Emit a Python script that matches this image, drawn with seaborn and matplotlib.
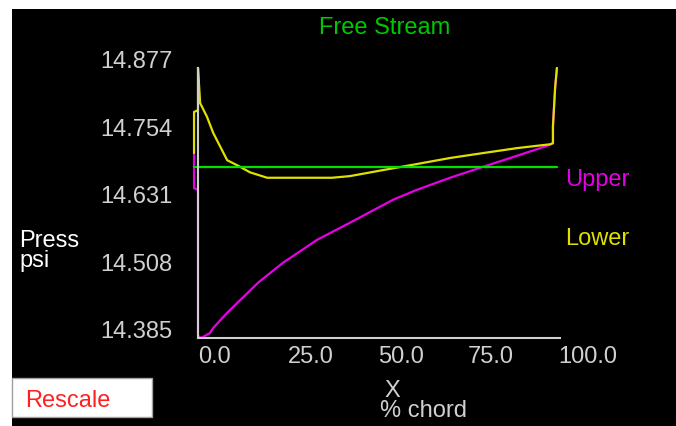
import matplotlib
matplotlib.use("Agg")
import matplotlib.pyplot as plt
from matplotlib.patches import Rectangle
import seaborn as sns

# % chord and pressure (psi) along the upper and lower surface
upper_x = [-1.1, -1.1, 0.0, 0.0, 0.8, 1.4, 3.3, 4.2, 8.1, 11.7, 16.9, 23.6,
           33.1, 42.2, 54.2, 60.8, 70.0, 79.2, 88.6, 97.8, 98.6, 98.6, 99.2,
           99.7]
upper_p = [14.722, 14.658, 14.655, 14.389, 14.385, 14.387, 14.394, 14.403,
           14.431, 14.454, 14.487, 14.522, 14.564, 14.595, 14.637, 14.655,
           14.677, 14.697, 14.717, 14.737, 14.740, 14.771, 14.841, 14.877]
lower_x = [-1.1, -1.1, 0.0, 0.0, 0.6, 2.5, 4.2, 8.1, 11.7, 14.4, 19.2, 37.2,
           42.2, 51.4, 60.8, 70.0, 79.2, 88.6, 97.8, 98.6, 98.6, 99.2, 99.7]
lower_p = [14.722, 14.797, 14.800, 14.877, 14.813, 14.788, 14.759, 14.709,
           14.697, 14.687, 14.677, 14.677, 14.680, 14.691, 14.702, 14.713,
           14.722, 14.731, 14.738, 14.740, 14.771, 14.841, 14.877]
free_x = [-1.1, 99.7]
free_p = [14.696, 14.696]

xticks = [0.0, 25.0, 50.0, 75.0, 100.0]
xtick_labels = ["0.0", "25.0", "50.0", "75.0", "100.0"]
yticks = [14.385, 14.508, 14.631, 14.754, 14.877]
ytick_labels = ["14.385", "14.508", "14.631", "14.754", "14.877"]

W, H = 676, 426
sns.set_style("dark", {"axes.facecolor": "none", "figure.facecolor": "white"})
plt.rcParams["font.family"] = ["Liberation Sans", "DejaVu Sans"]
FS = 17

YEL = "#e0e000"
MAG = "#e600e6"
GRN = "#00e000"
AXC = "#d0d0d0"

fig = plt.figure(figsize=(W / 100, H / 100), dpi=100, facecolor="white")
fig.patches.append(Rectangle((12 / W, 0), 1 - 12 / W, (H - 9) / H,
                             transform=fig.transFigure, facecolor="black",
                             edgecolor="none", zorder=-10))
fig.patches.append(Rectangle((12 / W, (H - 417) / H), 140 / W, 39 / H,
                             transform=fig.transFigure, facecolor="white",
                             edgecolor="#a0a0a0", linewidth=1, zorder=-5))


def px(x, y):
    return x / W, 1 - y / H


ax = fig.add_axes([198 / W, (H - 338) / H, 360 / W, 270 / H])
ax.set_facecolor("none")

sns.lineplot(x=upper_x, y=upper_p, sort=False, estimator=None, color=MAG,
             linewidth=1.6, ax=ax, clip_on=False)
sns.lineplot(x=lower_x, y=lower_p, sort=False, estimator=None, color=YEL,
             linewidth=1.6, ax=ax, clip_on=False)
sns.lineplot(x=free_x, y=free_p, sort=False, estimator=None, color=GRN,
             linewidth=1.6, ax=ax, clip_on=False)

ax.set_xlim(0, 100)
ax.set_ylim(14.385, 14.877)
ax.grid(False)
for s in ["top", "right"]:
    ax.spines[s].set_visible(False)
for s in ["left", "bottom"]:
    ax.spines[s].set_visible(True)
    ax.spines[s].set_color(AXC)
    ax.spines[s].set_linewidth(1.5)
ax.spines["bottom"].set_bounds(0, 100.5)

ax.set_xticks(xticks, xtick_labels)
ax.set_yticks(yticks, ytick_labels)
ax.tick_params(axis="both", length=0, colors=AXC, labelsize=FS)
ax.tick_params(axis="x", pad=5.5)
ax.tick_params(axis="y", pad=18.5)
for lbl in ax.get_xticklabels():
    lbl.set_horizontalalignment("left")
for lbl in ax.get_yticklabels():
    lbl.set_verticalalignment("baseline")
ax.set_xlabel("")
ax.set_ylabel("")

fig.text(*px(385, 28), "Free Stream", color="#00c800", fontsize=FS,
         ha="center", va="center")
fig.text(*px(565, 180), "Upper", color=MAG, fontsize=FS, ha="left", va="center")
fig.text(*px(565, 239), "Lower", color=YEL, fontsize=FS, ha="left", va="center")
fig.text(*px(19, 247), "Press", color="white", fontsize=FS, ha="left", va="baseline")
fig.text(*px(19, 267), "psi", color="white", fontsize=FS, ha="left", va="baseline")
fig.text(*px(392, 397), "X", color=AXC, fontsize=FS, ha="center", va="baseline")
fig.text(*px(423, 417), "% chord", color=AXC, fontsize=FS, ha="center", va="baseline")
fig.text(*px(25, 407), "Rescale", color="#ff2020", fontsize=FS, ha="left", va="baseline")

fig.savefig("out.png", dpi=100, facecolor="white")
